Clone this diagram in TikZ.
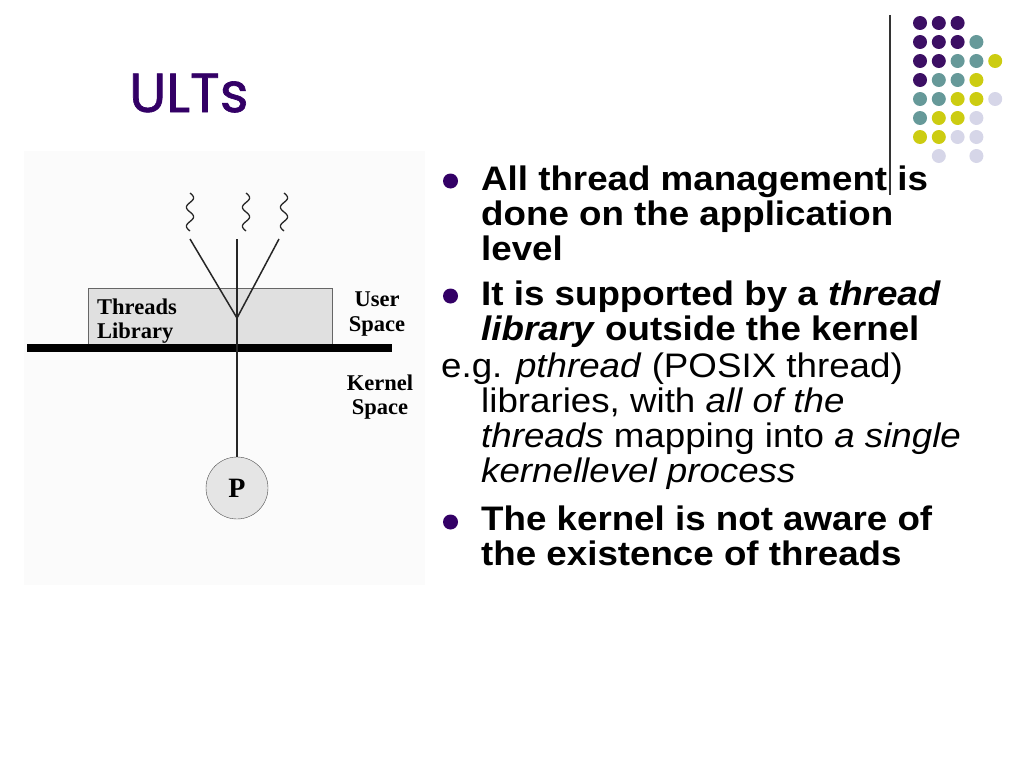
\documentclass[tikz,border=0pt]{standalone}
\usepackage{fontspec}
\setmainfont{Liberation Sans}[FakeStretch=1.08]
\newfontfamily\titlefont{Poppins}[FakeBold=1.2]
\newfontfamily\figfont{Liberation Serif}
\definecolor{ultpurple}{RGB}{51,0,102}
\definecolor{dotpurple}{RGB}{60,15,100}
\definecolor{dotteal}{RGB}{102,153,153}
\definecolor{dotyellow}{RGB}{204,204,17}
\definecolor{dotlilac}{RGB}{214,214,232}

\begin{document}
\begin{tikzpicture}[x=1pt, y=-1pt,
    ball/.style={circle, fill=#1, inner sep=0pt, minimum size=14pt},
    bullet/.style={circle, fill=ultpurple, inner sep=0pt, minimum size=15pt},
    spacelabel/.style={align=center, inner sep=0pt, font=\figfont\bfseries\fontsize{22.5}{24.5}\selectfont},
    line/.style={anchor=base west, inner sep=0pt, font=\fontsize{34}{35}\selectfont},
    boldline/.style={line, font=\fontsize{34}{35}\selectfont\bfseries},
    wire/.style={line width=1.5pt, black!85}]
    \useasboundingbox (0,0) rectangle (1024,768);

    \node[anchor=base west, inner sep=0pt, text=ultpurple, font=\titlefont\fontsize{55}{57}\selectfont] (title) at (129,112) {ULTs};

    % dot grid, top right
    \foreach \c/\r/\col in {0/0/dotpurple, 1/0/dotpurple, 2/0/dotpurple,
        0/1/dotpurple, 1/1/dotpurple, 2/1/dotpurple, 3/1/dotteal,
        0/2/dotpurple, 1/2/dotpurple, 2/2/dotteal, 3/2/dotteal, 4/2/dotyellow,
        0/3/dotpurple, 1/3/dotteal, 2/3/dotteal, 3/3/dotyellow,
        0/4/dotteal, 1/4/dotteal, 2/4/dotyellow, 3/4/dotyellow, 4/4/dotlilac,
        0/5/dotteal, 1/5/dotyellow, 2/5/dotyellow, 3/5/dotlilac,
        0/6/dotyellow, 1/6/dotyellow, 2/6/dotlilac, 3/6/dotlilac,
        1/7/dotlilac, 3/7/dotlilac}
        \node[ball=\col] (d\c\r) at (920+18.8*\c, 23+19*\r) {};
    \draw[black!80, line width=1.2pt] (890,15) -- (890,195);

    % figure
    \fill[black!1.5] (24,151) rectangle (425,585);
    \node[draw=black!60, fill=black!12, anchor=north west, inner sep=0pt, minimum width=244pt, minimum height=56pt] (lib) at (88,288) {};
    \node[spacelabel, align=left, anchor=west] (libtext) at (97,321) {Threads\\Library};
    \fill (27,344) rectangle (392,352);
    \node[spacelabel] (user) at (377,314) {User\\Space};
    \node[spacelabel] (kernel) at (380,397) {Kernel\\Space};

    % threads
    \foreach \tx in {190, 246, 284}
        \draw[wire, line width=1.3pt] plot[smooth, variable=\t, domain=0:38, samples=39] ({\tx+3.6*sin(360*\t/19)}, {193+\t});
    \coordinate (t1) at (190,239);
    \coordinate (t2) at (237,239);
    \coordinate (t3) at (279,239);
    \coordinate (join) at (237,318);
    \node[circle, draw=black!70, fill=black!10, minimum size=62pt, inner sep=0pt, font=\figfont\bfseries\fontsize{28}{28}\selectfont] (proc) at (237,488) {P};
    \draw[wire] (t1) -- (join) -- (t3);
    \draw[wire] (t2) -- (proc);

    % text
    \node[bullet] (b1) at (450.5,181) {};
    \node[boldline] (l1) at (481,190) {All thread management is};
    \node[boldline] (l2) at (481,225) {done on the application};
    \node[boldline] (l3) at (481,260) {level};
    \node[bullet] (b2) at (450.5,296) {};
    \node[boldline] (l4) at (481,305) {It is supported by a \textit{thread}};
    \node[boldline] (l5) at (481,340) {\textit{library} outside the kernel};
    \node[line] (l6) at (441,377) {e.g. \textit{pthread} (POSIX thread)};
    \node[line] (l7) at (481,412) {libraries, with \textit{all of the}};
    \node[line] (l8) at (481,447) {\textit{threads} mapping into \textit{a single}};
    \node[line] (l9) at (481,482) {\textit{kernellevel process}};
    \node[bullet] (b3) at (450.5,522) {};
    \node[boldline] (l10) at (481,530) {The kernel is not aware of};
    \node[boldline] (l11) at (481,565) {the existence of threads};
\end{tikzpicture}
\end{document}
